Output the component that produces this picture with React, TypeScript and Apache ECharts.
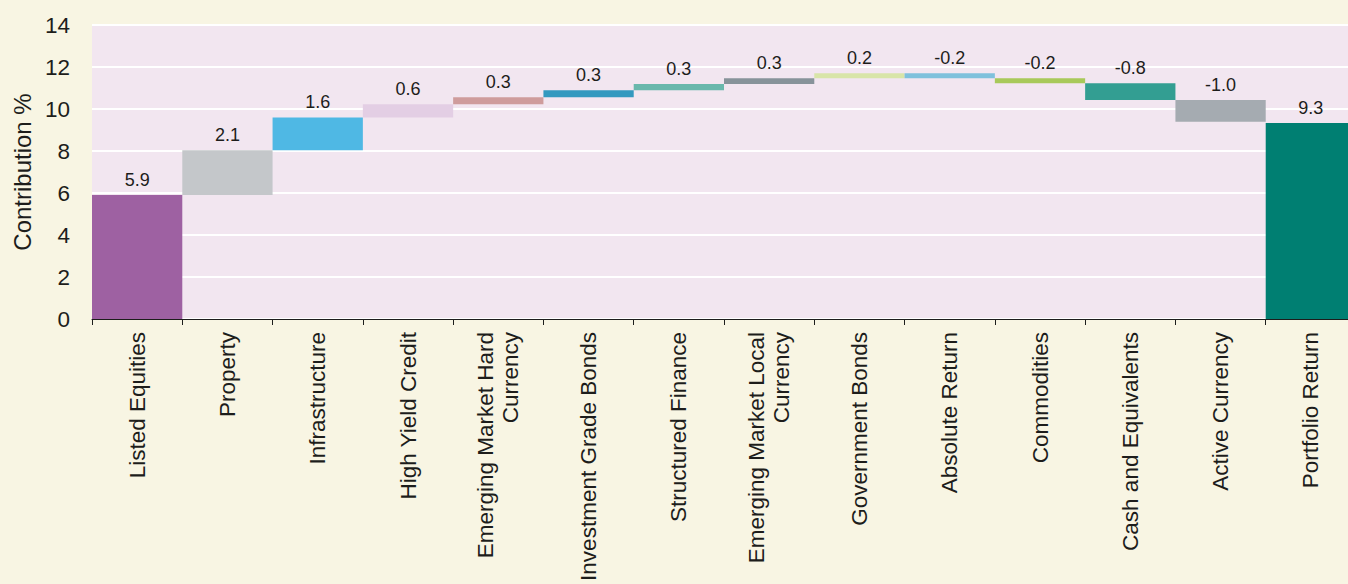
import React, { useEffect, useRef } from "react";
import * as echarts from "echarts";

const categories = [
  "Listed Equities",
  "Property",
  "Infrastructure",
  "High Yield Credit",
  "Emerging Market Hard\nCurrency",
  "Investment Grade Bonds",
  "Structured Finance",
  "Emerging Market Local\nCurrency",
  "Government Bonds",
  "Absolute Return",
  "Commodities",
  "Cash and Equivalents",
  "Active Currency",
  "Portfolio Return",
];

// contributions (last entry is the total)
const contributions = [5.9, 2.13, 1.57, 0.63, 0.33, 0.33, 0.3, 0.28, 0.23, -0.24, -0.23, -0.8, -1.04];
const portfolioReturn = 9.33;

const barColors = [
  "#9e61a2",
  "#c4c7ca",
  "#4fb8e4",
  "#e3cee4",
  "#cf9c9c",
  "#3399bf",
  "#6ab8ac",
  "#87939a",
  "#d8e5a8",
  "#7fc1dc",
  "#a8c95a",
  "#339e92",
  "#a5abb1",
  "#007f72",
];

const yTicks = [0, 2, 4, 6, 8, 10, 12, 14];

export default function App() {
  const ref = useRef<HTMLDivElement>(null);

  useEffect(() => {
    if (!ref.current) return;
    const chart = echarts.init(ref.current, null, { renderer: "svg" });

    const bases: number[] = [];
    const heights: number[] = [];
    const labels: string[] = [];
    let run = 0;
    contributions.forEach((v) => {
      const end = run + v;
      bases.push(Math.min(run, end));
      heights.push(Math.abs(v));
      labels.push(v.toFixed(1));
      run = end;
    });
    bases.push(0);
    heights.push(portfolioReturn);
    labels.push(portfolioReturn.toFixed(1));

    const font = "'Liberation Sans', Arial, Helvetica, sans-serif";

    chart.setOption({
      animation: false,
      backgroundColor: "#f8f5e3",
      textStyle: { fontFamily: font },
      grid: {
        left: 92,
        right: 0,
        top: 25,
        bottom: 265,
        show: true,
        backgroundColor: "#f2e6f0",
        borderWidth: 0,
      },
      xAxis: {
        type: "category",
        data: categories,
        axisLine: { show: true, lineStyle: { color: "#1d1d1b", width: 1 } },
        axisTick: { show: true, length: 6, lineStyle: { color: "#1d1d1b" } },
        axisLabel: {
          rotate: 90,
          interval: 0,
          margin: 13,
          fontSize: 22.5,
          color: "#1d1d1b",
          fontFamily: font,
          lineHeight: 25,
        },
        splitLine: { show: false },
      },
      yAxis: {
        type: "value",
        min: yTicks[0],
        max: yTicks[yTicks.length - 1],
        interval: 2,
        name: "Contribution %",
        nameLocation: "middle",
        nameRotate: 90,
        nameGap: 58,
        nameTextStyle: { fontSize: 24, color: "#1d1d1b", fontFamily: font },
        axisLine: { show: false },
        axisTick: { show: false },
        axisLabel: { fontSize: 22.5, color: "#1d1d1b", margin: 22, fontFamily: font },
        splitLine: { show: true, lineStyle: { color: "#ffffff", width: 2 } },
      },
      series: [
        {
          type: "bar",
          stack: "w",
          data: bases,
          itemStyle: { color: "transparent" },
          emphasis: { disabled: true },
          barCategoryGap: "0%",
          silent: true,
        },
        {
          type: "bar",
          stack: "w",
          barCategoryGap: "0%",
          data: heights.map((h, i) => ({ value: h, itemStyle: { color: barColors[i] } })),
          label: {
            show: true,
            position: "top",
            distance: 6,
            fontSize: 18,
            color: "#1d1d1b",
            fontFamily: font,
            formatter: (p: any) => labels[p.dataIndex],
          },
        },
      ],
    });

    return () => chart.dispose();
  }, []);

  return (
    <div
      ref={ref}
      style={{ position: "fixed", left: 0, top: 0, width: 1356, height: 584 }}
    />
  );
}
